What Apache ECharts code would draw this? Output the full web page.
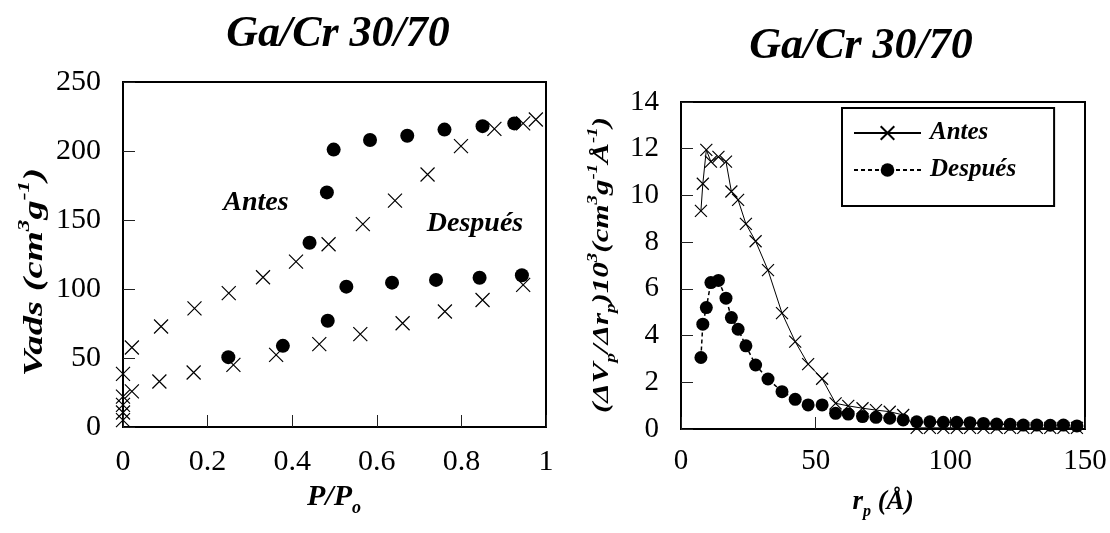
<!DOCTYPE html>
<html>
<head>
<meta charset="utf-8">
<script src="https://cdn.jsdelivr.net/npm/echarts@6/dist/echarts.min.js"></script>
<style>
  html, body { margin: 0; padding: 0; background: #fff; }
  #chart { width: 1110px; height: 533px; }
</style>
</head>
<body>
<div id="chart"></div>
<script>
// N2 isotherm, Ga/Cr 30/70: relative pressure P/Po vs adsorbed volume (cm3/g)
const isoAntesP = [0, 0, 0, 0, 0,
  0.021, 0.086, 0.167, 0.261, 0.362, 0.464, 0.561, 0.661, 0.761, 0.850, 0.946,
  0.976, 0.946, 0.878, 0.799, 0.720, 0.643, 0.567, 0.486, 0.409, 0.331, 0.250, 0.169, 0.090, 0.021];
const isoAntesV = [5, 10.5, 16, 22, 38.5,
  25.8, 33, 39.5, 45, 52.3, 60, 67.3, 75.2, 83.7, 92, 103,
  222.8, 220, 216, 203.5, 183, 164, 147, 132.4, 119.8, 108.5, 97, 86, 72.8, 57.6];

const isoDespuesP = [0.249, 0.378, 0.484, 0.528, 0.636, 0.740, 0.843, 0.943,
  0.925, 0.850, 0.760, 0.672, 0.584, 0.498, 0.482, 0.441];
const isoDespuesV = [50.6, 58.8, 77, 101.7, 104.6, 106.6, 108.2, 110,
  220, 218, 215.5, 211, 208, 201, 170, 133.5];

// Pore size distribution: pore radius rp (Å) vs (ΔVp/Δrp)·10^3
const poreRadius = [7.4, 8.1, 9.4, 11.1, 13.9, 16.7, 18.7, 21.2, 24.1, 27.7, 32.3, 37.5, 42.4, 47.2,
  52.4, 57.4, 62.1, 67.4, 72.4, 77.5, 82.5, 87.5, 92.4, 97.4, 102.4, 107.3, 112.3, 117.2,
  122.2, 127.1, 132.1, 137.1, 142, 147];
const psdAntes = [9.34, 10.5, 11.95, 11.45, 11.65, 11.45, 10.17, 9.81, 8.78, 8.04, 6.8, 4.96, 3.74, 2.78,
  2.15, 1.1, 0.99, 0.89, 0.81, 0.74, 0.6, 0.05, 0.05, 0.05, 0.05, 0.05, 0.05, 0.05,
  0.05, 0.05, 0.05, 0.05, 0.05, 0.05];
const psdDespues = [3.06, 4.49, 5.2, 6.27, 6.36, 5.6, 4.77, 4.27, 3.56, 2.74, 2.14, 1.6, 1.27, 1.03,
  1.03, 0.67, 0.64, 0.53, 0.5, 0.46, 0.39, 0.31, 0.31, 0.29, 0.29, 0.27, 0.24, 0.21,
  0.2, 0.17, 0.17, 0.16, 0.17, 0.13];

const seriesNames = ['Antes', 'Después'];
const chartTitle = 'Ga/Cr 30/70';

const zip = (xs, ys) => xs.map((x, i) => [x, ys[i]]);

const serif = "'Liberation Serif','Times New Roman',serif";
const crossPath = 'path://M0,0L20,20M20,0L0,20';

function tok(size, extra) {
  return Object.assign({
    fontFamily: serif, fontSize: size, fontWeight: 'bold', fontStyle: 'italic', fill: '#000'
  }, extra || {});
}

const tickLabel = (size, margin) => ({
  fontFamily: serif, fontSize: size, color: '#000', margin: margin
});
const tickStyle = { inside: true, length: 12, lineStyle: { color: '#222', width: 1 } };

const chart = echarts.init(document.getElementById('chart'), null, { renderer: 'canvas' });

chart.setOption({
  backgroundColor: '#fff',
  animation: false,
  grid: [
    { left: 123, top: 82, width: 423, height: 345, show: true, borderColor: '#000', borderWidth: 2, backgroundColor: 'transparent' },
    { left: 681, top: 102, width: 404, height: 327, show: true, borderColor: '#000', borderWidth: 2, backgroundColor: 'transparent' }
  ],
  xAxis: [
    { gridIndex: 0, type: 'value', min: 0, max: 1, interval: 0.2,
      axisLine: { show: false }, axisTick: tickStyle, splitLine: { show: false },
      axisLabel: tickLabel(30, 20) },
    { gridIndex: 1, type: 'value', min: 0, max: 150, interval: 50,
      axisLine: { show: false }, axisTick: tickStyle, splitLine: { show: false },
      axisLabel: tickLabel(29, 18) }
  ],
  yAxis: [
    { gridIndex: 0, type: 'value', min: 0, max: 250, interval: 50,
      axisLine: { show: false }, axisTick: tickStyle, splitLine: { show: false },
      axisLabel: tickLabel(30, 22) },
    { gridIndex: 1, type: 'value', min: 0, max: 14, interval: 2,
      axisLine: { show: false }, axisTick: tickStyle, splitLine: { show: false },
      axisLabel: tickLabel(29, 22) }
  ],
  legend: {
    data: seriesNames,
    orient: 'vertical',
    left: 842, top: 108,
    padding: [10, 38, 21, 11],
    itemWidth: 67, itemHeight: 17, itemGap: 7,
    selectedMode: false,
    backgroundColor: '#fff',
    borderColor: '#000', borderWidth: 2, borderRadius: 0,
    textStyle: { fontFamily: serif, fontSize: 25, fontWeight: 'bold', fontStyle: 'italic', color: '#000', lineHeight: 30, padding: [0, 0, 0, 4] }
  },
  series: [
    // pore size distribution (listed first so the legend takes its line icons)
    { name: seriesNames[0], type: 'line', xAxisIndex: 1, yAxisIndex: 1,
      data: zip(poreRadius, psdAntes), symbol: crossPath, symbolSize: 12, showAllSymbol: true,
      lineStyle: { color: '#000', width: 1, type: 'solid' },
      itemStyle: { color: 'rgba(0,0,0,0)', borderColor: '#000', borderWidth: 1.2, opacity: 1 },
      silent: true, z: 3 },
    { name: seriesNames[1], type: 'line', xAxisIndex: 1, yAxisIndex: 1,
      data: zip(poreRadius, psdDespues), symbol: 'circle', symbolSize: 13, showAllSymbol: true,
      lineStyle: { color: '#000', width: 1.5, type: [4, 3] },
      itemStyle: { color: '#000', opacity: 1 },
      silent: true, z: 2 },
    // adsorption-desorption isotherm
    { name: seriesNames[0], type: 'scatter', xAxisIndex: 0, yAxisIndex: 0,
      data: zip(isoAntesP, isoAntesV), symbol: crossPath, symbolSize: 14,
      itemStyle: { color: 'rgba(0,0,0,0)', borderColor: '#000', borderWidth: 1.2, opacity: 1 },
      silent: true },
    { name: seriesNames[1], type: 'scatter', xAxisIndex: 0, yAxisIndex: 0,
      data: zip(isoDespuesP, isoDespuesV), symbol: 'circle', symbolSize: 14,
      itemStyle: { color: '#000', opacity: 1 }, silent: true }
  ],
  graphic: [
    { type: 'text', x: 338, y: 35, silent: true,
      style: { text: chartTitle, align: 'center', verticalAlign: 'middle',
        fontFamily: serif, fontSize: 44, fontWeight: 'bold', fontStyle: 'italic', fill: '#000' } },
    { type: 'text', x: 861, y: 47, silent: true,
      style: { text: chartTitle, align: 'center', verticalAlign: 'middle',
        fontFamily: serif, fontSize: 44, fontWeight: 'bold', fontStyle: 'italic', fill: '#000' } },
    { type: 'text', x: 256, y: 203, silent: true, z: 10,
      style: { text: seriesNames[0], align: 'center', verticalAlign: 'middle',
        fontFamily: serif, fontSize: 28, fontWeight: 'bold', fontStyle: 'italic', fill: '#000' } },
    { type: 'text', x: 475, y: 224, silent: true, z: 10,
      style: { text: seriesNames[1], align: 'center', verticalAlign: 'middle',
        fontFamily: serif, fontSize: 28, fontWeight: 'bold', fontStyle: 'italic', fill: '#000' } },
    // y-axis title of the isotherm
    { type: 'text', x: 35, y: 272, rotation: Math.PI / 2, scaleX: 1.38, silent: true,
      style: { text: '{b|Vads (cm}{sup|3}{b|g}{sup|-1}{b|)}', align: 'center', verticalAlign: 'middle',
        rich: { b: tok(28, { lineHeight: 38 }), sup: tok(17, { lineHeight: 24, verticalAlign: 'top' }) } } },
    // y-axis title of the pore size distribution
    { type: 'text', x: 602, y: 265, rotation: Math.PI / 2, scaleX: 1.35, silent: true,
      style: { text: '{b|(ΔV}{sub|p}{b|/Δr}{sub|p}{b|)10}{sup|3}{b|(cm}{sup|3}{b|g}{sup|-1}{b|Å}{sup|-1}{b|)}',
        align: 'center', verticalAlign: 'middle',
        rich: { b: tok(23, { lineHeight: 32 }), sup: tok(14, { lineHeight: 20, verticalAlign: 'top' }),
          sub: tok(14, { lineHeight: 20, verticalAlign: 'bottom' }) } } },
    // x-axis titles
    { type: 'text', x: 334, y: 497, silent: true,
      style: { text: '{b|P/P}{sub|o}', align: 'center', verticalAlign: 'middle',
        rich: { b: tok(30, { lineHeight: 40 }), sub: tok(18, { lineHeight: 24, verticalAlign: 'bottom' }) } } },
    { type: 'text', x: 883, y: 502, silent: true,
      style: { text: '{b|r}{sub|p}{b| (Å)}', align: 'center', verticalAlign: 'middle',
        rich: { b: tok(27, { lineHeight: 36 }), sub: tok(16, { lineHeight: 22, verticalAlign: 'bottom' }) } } }
  ]
});
</script>
</body>
</html>
